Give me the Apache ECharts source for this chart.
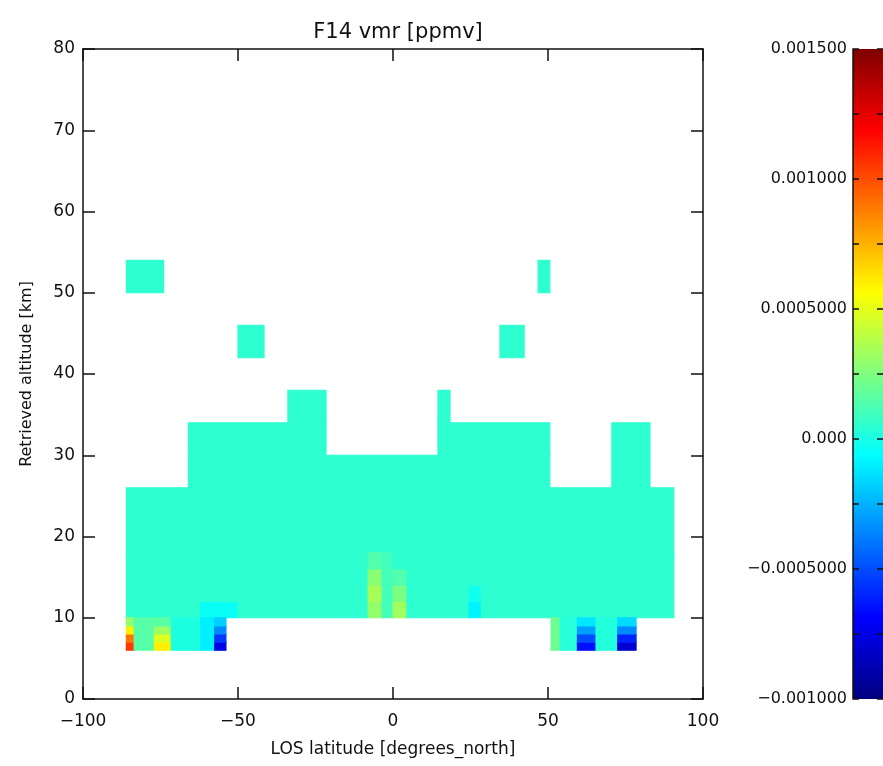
<!DOCTYPE html>
<html><head><meta charset="utf-8">
<script src="https://cdn.jsdelivr.net/npm/echarts@6/dist/echarts.min.js"></script>
<style>html,body{margin:0;padding:0;background:#fff}#c{width:883px;height:766px}</style>
</head><body><div id="c"></div>
<script>
// ---------------- data ----------------
const chartTitle = 'F14 vmr [ppmv]';
const xName = 'LOS latitude [degrees_north]';
const yName = 'Retrieved altitude [km]';
const cbMin = -0.001, cbMax = 0.0015;
const cbTickLabels = ['\u22120.001000', '\u22120.0005000', '0.000', '0.0005000', '0.001000', '0.001500'];
const jetColors = ['#00007f', '#0000ff', '#007fff', '#00ffff', '#7fff7f', '#ffff00', '#ff7f00', '#ff0000', '#7f0000'];

// cells: latitude span [deg N], altitude span [km], vmr [ppmv]
const cellLatMin = [-86, -50, 34.5, 46.8, -33.9, 14.5, -66, 14.5, 70.6, -66, -86,
  -86, -62, -62, -50, -8, -8, -8, -8, -3.5, 0, 0, 0, 0, 4.5, 24.5, 24.5, 24.5, 28.5,
  -86, -86, -86, -86, -83.5, -77, -77, -77, -77, -71.5, -62, -57.5, -57.5, -57.5, -57.5,
  51, 54, 59.5, 59.5, 59.5, 59.5, 65.5, 72.5, 72.5, 72.5, 72.5];
const cellLatMax = [-74, -41.6, 42.3, 50.6, -21.6, 18.4, -21.6, 50.6, 82.9, 50.6, 90.6,
  -62, -50, -50, -8, -3.5, -3.5, -3.5, -3.5, 0, 4.5, 4.5, 4.5, 4.5, 24.5, 28.5, 28.5, 28.5, 90.6,
  -83.5, -83.5, -83.5, -83.5, -77, -71.5, -71.5, -71.5, -71.5, -62, -57.5, -53.9, -53.9, -53.9, -53.9,
  54, 59.5, 65.5, 65.5, 65.5, 65.5, 72.5, 78.4, 78.4, 78.4, 78.4];
const cellAltMin = [50, 42, 42, 50, 34, 34, 30, 30, 26, 26, 18,
  10, 10, 12, 10, 10, 12, 14, 16, 10, 10, 12, 14, 16, 10, 10, 12, 14, 10,
  6, 7, 8, 9, 6, 6, 7, 8, 9, 6, 6, 6, 7, 8, 9,
  6, 6, 6, 7, 8, 9, 6, 6, 7, 8, 9];
const cellAltMax = [54, 46, 46, 54, 38, 38, 34, 34, 34, 30, 26,
  18, 12, 18, 18, 12, 14, 16, 18, 18, 12, 14, 16, 18, 18, 12, 14, 18, 18,
  7, 8, 9, 10, 10, 7, 8, 9, 10, 10, 10, 7, 8, 9, 10,
  10, 10, 7, 8, 9, 10, 10, 7, 8, 9, 10];
const cellValue = [0.00005, 0.00005, 0.00005, 0.00005, 0.00005, 0.00005, 0.00005, 0.00005, 0.00005, 0.00005, 0.00005,
  0.00005, -0.00004, 0.00005, 0.00005, 0.0003, 0.00035, 0.00028, 0.00014, 0.0001, 0.00033, 0.00024, 0.00014, 0.00005, 0.00005, -0.00009, -0.00002, 0.00005, 0.00005,
  0.00105, 0.0009, 0.0006, 0.0003, 0.00015, 0.0006, 0.00048, 0.00032, 0.00016, 0.00001, -0.0001, -0.00075, -0.00055, -0.00035, -0.00018,
  0.0002, 0.00003, -0.00065, -0.0005, -0.0003, -0.00012, 0.00002, -0.0008, -0.0006, -0.00035, -0.00015];

// ---------------- chart ----------------
const cells = cellValue.map((v, i) => [cellLatMin[i], cellLatMax[i], cellAltMin[i], cellAltMax[i], v]);
const FONT = 'DejaVu Sans';
const INK = '#111';
const lineStyle = { color: INK, width: 1.5 };
const minus = v => String(v).replace('-', '\u2212');
const boxAxis = { onZero: false, lineStyle };

const chart = echarts.init(document.getElementById('c'), null, { renderer: 'canvas' });
chart.setOption({
  backgroundColor: '#fff',
  animation: false,
  title: {
    text: chartTitle, left: 393, top: 17, textAlign: 'center',
    textStyle: { fontFamily: FONT, fontSize: 21, fontWeight: 'normal', color: INK }
  },
  grid: [
    { left: 83, top: 49, width: 620, height: 650 },
    { left: 853, top: 49, width: 32, height: 650 }
  ],
  xAxis: [
    {
      gridIndex: 0, type: 'value', min: -100, max: 100, interval: 50, position: 'bottom', z: 5,
      axisLine: boxAxis, axisTick: { inside: true, length: 12, lineStyle },
      axisLabel: { fontFamily: FONT, fontSize: 17, color: INK, margin: 14, formatter: minus },
      splitLine: { show: false },
      name: xName, nameLocation: 'middle', nameGap: 42,
      nameTextStyle: { fontFamily: FONT, fontSize: 17, color: INK }
    },
    {
      gridIndex: 0, type: 'value', min: -100, max: 100, interval: 50, position: 'top', z: 5,
      axisLine: boxAxis, axisTick: { inside: true, length: 12, lineStyle },
      axisLabel: { show: false }, splitLine: { show: false }
    },
    { gridIndex: 1, type: 'value', min: 0, max: 1, show: false }
  ],
  yAxis: [
    {
      gridIndex: 0, type: 'value', min: 0, max: 80, interval: 10, position: 'left', z: 5,
      axisLine: boxAxis, axisTick: { inside: true, length: 12, lineStyle },
      axisLabel: { fontFamily: FONT, fontSize: 17, color: INK, margin: 8, formatter: minus },
      splitLine: { show: false },
      name: yName, nameLocation: 'middle', nameGap: 48, nameRotate: 90,
      nameTextStyle: { fontFamily: FONT, fontSize: 16, color: INK }
    },
    {
      gridIndex: 0, type: 'value', min: 0, max: 80, interval: 10, position: 'right', z: 5,
      axisLine: boxAxis, axisTick: { inside: true, length: 12, lineStyle },
      axisLabel: { show: false }, splitLine: { show: false }
    },
    {
      gridIndex: 1, type: 'value', min: cbMin, max: cbMax, interval: 0.00025, position: 'left', z: 5,
      axisLine: boxAxis, axisTick: { inside: true, length: 6, lineStyle },
      axisLabel: {
        fontFamily: FONT, fontSize: 16, color: INK, margin: 6,
        formatter: v => {
          const k = Math.round((v - cbMin) / 0.00025);
          return k % 2 ? '' : cbTickLabels[k / 2];
        }
      },
      splitLine: { show: false }
    },
    {
      gridIndex: 1, type: 'value', min: cbMin, max: cbMax, interval: 0.00025, position: 'right', z: 5,
      axisLine: { show: false, onZero: false }, axisTick: { inside: true, length: 6, lineStyle },
      axisLabel: { show: false }, splitLine: { show: false }
    }
  ],
  visualMap: {
    show: false, type: 'continuous', min: cbMin, max: cbMax, dimension: 4, seriesIndex: 0,
    inRange: { color: jetColors }
  },
  series: [
    {
      type: 'custom', xAxisIndex: 0, yAxisIndex: 0, z: 1,
      encode: { x: [0, 1], y: [2, 3] },
      data: cells,
      renderItem: (params, api) => {
        const p0 = api.coord([api.value(0), api.value(3)]);
        const p1 = api.coord([api.value(1), api.value(2)]);
        const color = api.visual('color');
        return {
          type: 'rect',
          shape: { x: p0[0], y: p0[1], width: p1[0] - p0[0], height: p1[1] - p0[1] },
          style: { fill: color, stroke: color, lineWidth: 1.2 }
        };
      }
    },
    {
      type: 'custom', xAxisIndex: 2, yAxisIndex: 2, z: 1,
      encode: { x: [0, 1], y: [2, 3] },
      data: [[0, 1, cbMin, cbMax]],
      renderItem: (params, api) => {
        const p0 = api.coord([api.value(0), api.value(3)]);
        const p1 = api.coord([api.value(1), api.value(2)]);
        const stops = jetColors.map((c, i) => ({ offset: i / (jetColors.length - 1), color: c }));
        return {
          type: 'rect',
          shape: { x: p0[0], y: p0[1], width: p1[0] - p0[0], height: p1[1] - p0[1] },
          style: { fill: new echarts.graphic.LinearGradient(0, 1, 0, 0, stops) }
        };
      }
    }
  ]
});
</script>
</body></html>
